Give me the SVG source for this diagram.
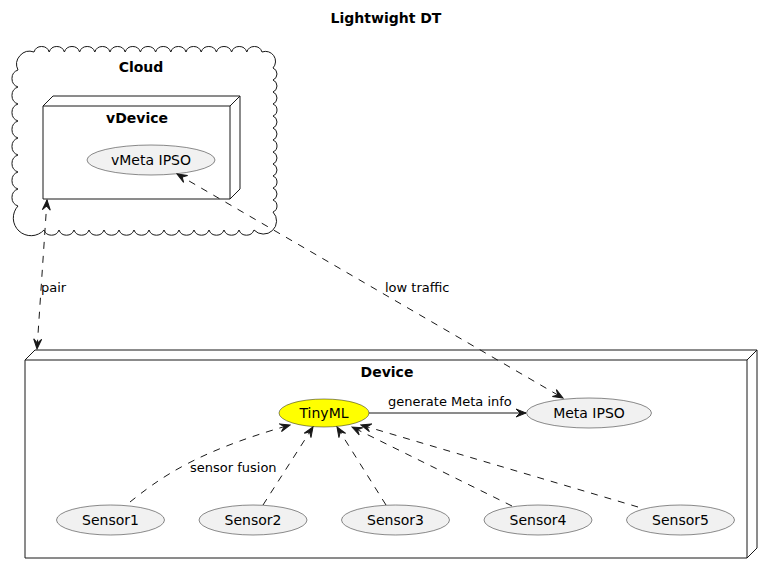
<svg xmlns="http://www.w3.org/2000/svg" width="773" height="574" viewBox="0 0 773 574">
<style>
text{font-family:"DejaVu Sans","Liberation Sans",sans-serif;font-size:13px;fill:#000}
.b{font-weight:bold;font-size:14px}
.c{text-anchor:middle}
.n{font-size:14px}
.shape{fill:#fff;stroke:#181818;stroke-width:1}
.el{fill:#F1F1F1;stroke:#181818;stroke-width:0.5}
.e{fill:none;stroke:#181818;stroke-width:1}
.d{stroke-dasharray:7,7}
</style>
<defs>
<marker id="ah" viewBox="-11 -5 12 10" refX="0" refY="0" markerWidth="12" markerHeight="10" orient="auto-start-reverse" markerUnits="userSpaceOnUse">
<path d="M0,0 L-10,-4 L-6,0 L-10,4 Z" fill="#181818" stroke="#181818" stroke-width="1" stroke-linejoin="miter"/>
</marker>
</defs>
<rect width="773" height="574" fill="#fff"/>
<text class="b c" x="386" y="23">Lightwight DT</text>

<g id="Cloud">
<path class="shape" d="M34,52 a8,8 0 0 1 15.2,0 a8,8 0 0 1 15.2,0 a8,8 0 0 1 15.2,0 a8,8 0 0 1 15.2,0 a8,8 0 0 1 15.2,0 a8,8 0 0 1 15.2,0 a8,8 0 0 1 15.2,0 a8,8 0 0 1 15.2,0 a8,8 0 0 1 15.2,0 a8,8 0 0 1 15.2,0 a8,8 0 0 1 15.2,0 a8,8 0 0 1 15.2,0 a8,8 0 0 1 15.2,0 a8,8 0 0 1 15.2,0 a8,8 0 0 1 15.2,0 a10,10 0 0 1 11,16 a6.5,6.5 0 0 1 0,12 a6.5,6.5 0 0 1 0,12 a6.5,6.5 0 0 1 0,12 a6.5,6.5 0 0 1 0,12 a6.5,6.5 0 0 1 0,12 a6.5,6.5 0 0 1 0,12 a6.5,6.5 0 0 1 0,12 a6.5,6.5 0 0 1 0,12 a6.5,6.5 0 0 1 0,12 a6.5,6.5 0 0 1 0,12 a6.5,6.5 0 0 1 0,12 a6.5,6.5 0 0 1 0,12 a13,13 0 0 1 -19,18 a8,8 0 0 1 -15,0 a8,8 0 0 1 -15,0 a8,8 0 0 1 -15,0 a8,8 0 0 1 -15,0 a8,8 0 0 1 -15,0 a8,8 0 0 1 -15,0 a8,8 0 0 1 -15,0 a8,8 0 0 1 -15,0 a8,8 0 0 1 -15,0 a8,8 0 0 1 -15,0 a8,8 0 0 1 -15,0 a8,8 0 0 1 -15,0 a8,8 0 0 1 -15,0 a8,8 0 0 1 -15,0 a16,16 0 0 1 -26,-24 a9,9 0 0 1 0,-17 a9,9 0 0 1 0,-17 a9,9 0 0 1 0,-17 a9,9 0 0 1 0,-17 a9,9 0 0 1 0,-17 a9,9 0 0 1 0,-17 a9,9 0 0 1 0,-17 a9,9 0 0 1 0,-17 a13,13 0 0 1 16,-18 Z"/>
<text class="b c" x="141" y="72">Cloud</text>
</g>

<g id="vDevice">
<path class="shape" d="M43,106 L53,96 L240,96 L240,189 L230,199 L43,199 Z"/>
<path class="e" d="M43,106 L230,106 L240,96 M230,106 L230,199"/>
<text class="b c" x="137" y="123">vDevice</text>
</g>

<g id="vMetaIPSO">
<ellipse class="el" cx="151" cy="160" rx="64" ry="15"/>
<text class="c n" x="151" y="165">vMeta IPSO</text>
</g>

<g id="Device">
<path class="shape" d="M25,360 L35,350 L757,350 L757,548 L747,558 L25,558 Z"/>
<path class="e" d="M25,360 L747,360 L757,350 M747,360 L747,558"/>
<text class="b c" x="387" y="377">Device</text>
</g>

<g id="TinyML">
<ellipse cx="324" cy="413" rx="45" ry="14" fill="#FFFF00" stroke="#181818" stroke-width="0.5"/>
<text class="c n" x="324" y="418">TinyML</text>
</g>
<g id="MetaIPSO">
<ellipse class="el" cx="589" cy="413" rx="62.5" ry="15"/>
<text class="c n" x="589" y="418">Meta IPSO</text>
</g>
<g id="Sensor1"><ellipse class="el" cx="110.5" cy="520" rx="54" ry="15"/><text class="c n" x="110.5" y="525">Sensor1</text></g>
<g id="Sensor2"><ellipse class="el" cx="253" cy="520" rx="54" ry="15"/><text class="c n" x="253" y="525">Sensor2</text></g>
<g id="Sensor3"><ellipse class="el" cx="395.5" cy="520" rx="54" ry="15"/><text class="c n" x="395.5" y="525">Sensor3</text></g>
<g id="Sensor4"><ellipse class="el" cx="538" cy="520" rx="54" ry="15"/><text class="c n" x="538" y="525">Sensor4</text></g>
<g id="Sensor5"><ellipse class="el" cx="680.5" cy="520" rx="54" ry="15"/><text class="c n" x="680.5" y="525">Sensor5</text></g>

<g id="connectors">
<path class="e d" d="M47,200 L37,349" marker-start="url(#ah)" marker-end="url(#ah)"/>
<text x="41" y="292">pair</text>
<path class="e d" d="M177,174 L563,398" marker-start="url(#ah)" marker-end="url(#ah)"/>
<text x="385" y="292">low traffic</text>
<path class="e" d="M369,413 L526,413" marker-end="url(#ah)"/>
<text x="388" y="406">generate Meta info</text>
<path class="e d" d="M130,502 C160,478 195,452 290,425" marker-end="url(#ah)"/>
<text x="190" y="472">sensor fusion</text>
<path class="e d" d="M263,505 L313,427" marker-end="url(#ah)"/>
<path class="e d" d="M386,505 L337,427" marker-end="url(#ah)"/>
<path class="e d" d="M512,506 L352,427" marker-end="url(#ah)"/>
<path class="e d" d="M638,507 L361,425" marker-end="url(#ah)"/>
</g>
</svg>
